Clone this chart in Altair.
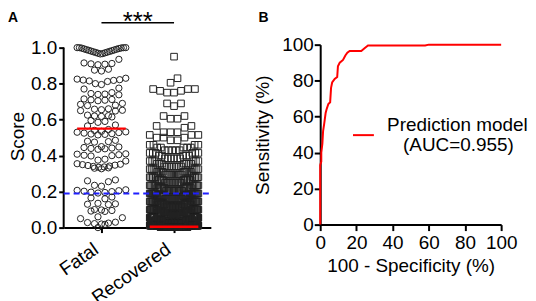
import altair as alt
import pandas as pd
import numpy as np

# ---------------- data ----------------
groups = ["Fatal", "Recovered"]

fatal_scores = [
    1.0, 1.0, 1.0, 1.0, 0.998, 0.997, 0.995, 0.993, 0.991, 0.989, 0.987, 0.985,
    0.983, 0.981, 0.979, 0.977, 0.975, 0.973, 0.971, 0.969, 0.967, 0.965,
    0.935, 0.915, 0.912, 0.91, 0.908, 0.905,
    0.88, 0.875, 0.87,
    0.83, 0.825, 0.822, 0.82, 0.818, 0.815, 0.812, 0.80, 0.795,
    0.775, 0.77, 0.75, 0.745, 0.742, 0.74, 0.738,
    0.715, 0.712, 0.71, 0.708, 0.705,
    0.69, 0.685, 0.68, 0.678,
    0.66, 0.658, 0.655, 0.652, 0.65, 0.648,
    0.625, 0.622, 0.62, 0.618, 0.615,
    0.595, 0.59, 0.585, 0.57, 0.565,
    0.545, 0.54, 0.535, 0.532, 0.53, 0.528, 0.525, 0.522, 0.52, 0.518, 0.515,
    0.485, 0.48, 0.478, 0.475,
    0.45, 0.448, 0.445, 0.442, 0.44, 0.438, 0.435,
    0.41, 0.408, 0.405, 0.402, 0.40, 0.398,
    0.38, 0.375, 0.37,
    0.355, 0.352, 0.35, 0.347, 0.345, 0.342, 0.34, 0.337, 0.335, 0.332, 0.33, 0.327,
    0.265, 0.26, 0.255, 0.235, 0.23,
    0.21, 0.207, 0.205, 0.202, 0.2, 0.197, 0.195, 0.192,
    0.17, 0.165, 0.16,
    0.135, 0.132, 0.13, 0.128,
    0.1, 0.098, 0.095, 0.092, 0.09,
    0.06, 0.055, 0.05,
    0.03, 0.028, 0.025, 0.022, 0.02, 0.018,
    0.0,
]

recovered_values = [0.95, 0.83, 0.805, 0.77, 0.76, 0.75, 0.69, 0.675, 0.62, 0.605,
                    0.565, 0.555, 0.53, 0.515, 0.50, 0.485, 0.46, 0.445, 0.43, 0.415,
                    0.40, 0.385, 0.37, 0.355, 0.34, 0.325, 0.31, 0.295, 0.28, 0.265,
                    0.25, 0.235, 0.22, 0.205, 0.19, 0.175, 0.16, 0.145, 0.13, 0.115,
                    0.10, 0.085, 0.07, 0.055, 0.04, 0.025, 0.012, 0.003]
recovered_counts = [1, 1, 1, 3, 2, 2, 2, 1, 2, 2,
                    2, 1, 3, 3, 3, 2, 4, 5, 5, 6,
                    5, 6, 6, 7, 8, 8, 9, 10, 10, 11,
                    12, 12, 14, 14, 15, 16, 18, 20, 22, 24,
                    26, 28, 30, 35, 50, 80, 120, 150]

group_medians = [0.55, 0.005]
cutoff = 0.19
score_ticks = [0.0, 0.2, 0.4, 0.6, 0.8, 1.0]
sig_label = "***"

roc_fpr = [0, 0, 0.6, 0.6, 1.2, 1.6, 2.2, 3.0, 3.5, 4.5, 5.5, 6.0, 6.6, 8.0, 9.4,
           9.8, 10.8, 12.6, 13.9, 15.0, 16.3, 22.7, 24.5, 26.4, 58.0, 60.0, 100]
roc_tpr = [0, 33, 35, 40, 45, 52, 56, 62, 64, 67, 68, 76, 79, 81, 82,
           88, 90, 91.5, 94, 95.5, 96.5, 96.5, 98, 99.5, 99.5, 100, 100]
roc_ticks = [0, 20, 40, 60, 80, 100]
legend_lines = ["Prediction model", "(AUC=0.955)"]

# ---------------- layout helpers ----------------
ROW_H = 0.036      # height of one swarm row (score units)
STEP = 0.096       # spacing between neighbours (category units)
MAX_HALF = 0.335   # max half width of a swarm row (category units)
X_DOM = [-0.5205, 1.5068]
Y_DOM_A = [0, 1.0166]
FONT = "Liberation Sans"


def swarm(values, gi):
    vals = sorted(values, reverse=True)
    rows, cur, top = [], [], None
    for v in vals:
        if top is None or v > top - ROW_H:
            if top is None:
                top = v
            cur.append(v)
        else:
            rows.append(cur)
            cur, top = [v], v
    rows.append(cur)
    recs = []
    for row in rows:
        n = len(row)
        sp = STEP if n <= 1 else min(STEP, 2 * MAX_HALF / (n - 1))
        pos = [(i - (n - 1) / 2) * sp for i in range(n)]
        order = sorted(range(n), key=lambda i: (abs(pos[i]), pos[i]))
        for v, i in zip(sorted(row), order):
            recs.append({"group": groups[gi], "gx": gi + pos[i], "score": v})
    return recs


df_f = pd.DataFrame(swarm(fatal_scores, 0))
df_r = pd.DataFrame(swarm(list(np.repeat(recovered_values, recovered_counts)), 1))
df_med = pd.DataFrame({
    "x0": [i - MAX_HALF for i in range(len(groups))],
    "x1": [i + MAX_HALF for i in range(len(groups))],
    "med": group_medians,
})
df_roc = pd.DataFrame({"fpr": roc_fpr, "tpr": roc_tpr, "idx": range(len(roc_fpr))})
one = pd.DataFrame({"k": [0]})  # single row for annotations

# ---------------- panel A ----------------
xs = alt.Scale(domain=X_DOM, nice=False, zero=False)
ys = alt.Scale(domain=Y_DOM_A, nice=False, zero=False)

x_axis_a = alt.Axis(values=[0, 1], labelExpr="datum.value == 0 ? 'Fatal' : 'Recovered'",
                    labelAngle=-35, labelAlign="right", labelBaseline="top",
                    tickSize=5, labelPadding=7, labelOffset=-11, labelOverlap=False,
                    labelFlush=False, title=None)
y_axis_a = alt.Axis(values=score_ticks, format=".1f", domain=False, tickSize=5,
                    labelPadding=2, labelOverlap=False, labelFlush=False,
                    title="Score", titlePadding=3)

pts_f = alt.Chart(df_f).mark_point(shape="circle", filled=False, size=40, strokeWidth=1,
                                   color="#222222", opacity=1).encode(
    x=alt.X("gx:Q", scale=xs, axis=x_axis_a),
    y=alt.Y("score:Q", scale=ys, axis=y_axis_a),
)
pts_r = alt.Chart(df_r).mark_point(shape="square", filled=False, size=44, strokeWidth=1,
                                   color="#222222", opacity=1).encode(
    x=alt.X("gx:Q", scale=xs, axis=x_axis_a),
    y=alt.Y("score:Q", scale=ys, axis=y_axis_a),
)
y_line = alt.Chart(one).mark_rule(color="black", strokeWidth=2).encode(
    x=alt.value(0),
    y=alt.YDatum(0.0, scale=ys, axis=y_axis_a),
    y2=alt.Y2Datum(1.0))
cut = alt.Chart(one).mark_rule(color="#1f1fff", strokeWidth=2, strokeDash=[6, 4]).encode(
    x=alt.XDatum(X_DOM[0], scale=xs, axis=x_axis_a), x2=alt.X2Datum(X_DOM[1]),
    y=alt.YDatum(cutoff, scale=ys, axis=y_axis_a))
med = alt.Chart(df_med).mark_rule(color="#ff0000", strokeWidth=2.5).encode(
    x=alt.X("x0:Q", scale=xs, axis=x_axis_a), x2="x1:Q",
    y=alt.Y("med:Q", scale=ys, axis=y_axis_a))
sig_line = alt.Chart(one).mark_rule(color="black", strokeWidth=1.5).encode(
    x=alt.XDatum(0, scale=xs, axis=x_axis_a), x2=alt.X2Datum(1), y=alt.value(-22))
sig_text = alt.Chart(one).mark_text(text=sig_label, fontSize=26, font=FONT,
                                    fill="black", baseline="alphabetic",
                                    align="center").encode(
    x=alt.XDatum(0.5, scale=xs, axis=x_axis_a), y=alt.value(-14.5))
lab_a = alt.Chart(one).mark_text(text="A", fontSize=14, fontWeight="bold", font=FONT,
                                 fill="black", align="left",
                                 baseline="alphabetic").encode(
    x=alt.value(-56), y=alt.value(-23))

panel_a = alt.layer(pts_f, pts_r, y_line, med, cut, sig_line, sig_text, lab_a).properties(
    width=148, height=184)

# ---------------- panel B ----------------
bx = alt.Scale(domain=[0, 100], nice=False)
by = alt.Scale(domain=[0, 100], nice=False)
roc = alt.Chart(df_roc).mark_line(color="#ff0000", strokeWidth=2).encode(
    x=alt.X("fpr:Q", scale=bx, axis=alt.Axis(values=roc_ticks, tickSize=6, labelPadding=3,
                                             title="100 - Specificity (%)", titlePadding=4)),
    y=alt.Y("tpr:Q", scale=by, axis=alt.Axis(values=roc_ticks, tickSize=6, labelPadding=1,
                                             title="Sensitivity (%)", titlePadding=9)),
    order="idx:Q",
)
leg_line = alt.Chart(one).mark_rule(color="#ff0000", strokeWidth=2).encode(
    x=alt.value(33), x2=alt.value(54), y=alt.value(91))
leg_t1 = alt.Chart(one).mark_text(text=legend_lines[0], fontSize=19, font=FONT,
                                  fill="black", align="center",
                                  baseline="alphabetic").encode(
    x=alt.value(138), y=alt.value(87))
leg_t2 = alt.Chart(one).mark_text(text=legend_lines[1], fontSize=19, font=FONT,
                                  fill="black", align="center",
                                  baseline="alphabetic").encode(
    x=alt.value(139), y=alt.value(107))
lab_b = alt.Chart(one).mark_text(text="B", fontSize=14, fontWeight="bold", font=FONT,
                                 fill="black", align="left",
                                 baseline="alphabetic").encode(
    x=alt.value(-62), y=alt.value(-23))

panel_b = alt.layer(roc, leg_line, leg_t1, leg_t2, lab_b).properties(width=182, height=181)

chart = alt.hconcat(panel_a, panel_b, spacing=110, bounds="flush").properties(
    padding=0
).configure_view(stroke=None).configure_axis(
    grid=False, domainColor="black", tickColor="black", labelColor="black",
    titleColor="black", domainWidth=2, tickWidth=2, labelFontSize=19, titleFontSize=19,
    titleFontWeight="normal", labelFont=FONT, titleFont=FONT,
    labelOverlap=False, labelFlush=False,
)

chart.save("out.html", embed_options={"renderer": "svg", "actions": False})
